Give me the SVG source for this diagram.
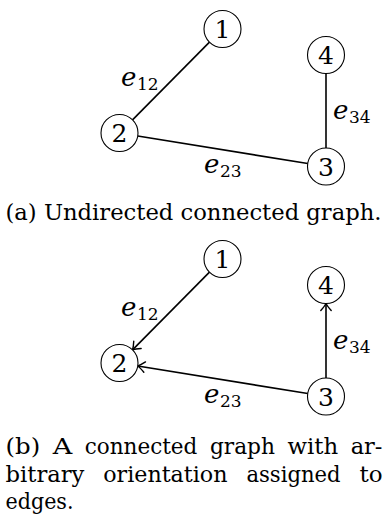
<svg xmlns="http://www.w3.org/2000/svg" width="385" height="524" viewBox="0 0 385 524">
<style>
text{font-family:'DejaVu Serif',serif;fill:#000}
.node circle{fill:#fff;stroke:#000;stroke-width:1.1}
.node text{font-size:25px;text-anchor:middle}
.edge{stroke:#000;stroke-width:1.6;fill:none}
.e{font-style:italic;font-size:26px}
.s{font-size:17px}
.cap{font-size:22px}
</style>
<defs>
<marker id="arr" markerUnits="userSpaceOnUse" viewBox="-9 -7 11 14" markerWidth="11" markerHeight="14" refX="0" refY="0" orient="auto" overflow="visible">
<path d="M-7,-5.2 Q-2.5,-1.2 0,0 Q-2.5,1.2 -7,5.2" fill="none" stroke="#000" stroke-width="1.4" stroke-linecap="round" stroke-linejoin="round"/>
</marker>
</defs>
<g id="connectors">
<line class="edge" x1="209.48" y1="42.14" x2="132.52" y2="119.86"/>
<line class="edge" x1="137.76" y1="135.96" x2="307.74" y2="163.54"/>
<line class="edge" x1="326" y1="148" x2="326" y2="73.5"/>
<line class="edge" x1="209.48" y1="272.14" x2="132.52" y2="349.86" marker-end="url(#arr)"/>
<line class="edge" x1="307.74" y1="393.54" x2="137.76" y2="365.96" marker-end="url(#arr)"/>
<line class="edge" x1="326" y1="378" x2="326" y2="303.5" marker-end="url(#arr)"/>
</g>
<g id="edge-labels">
<text x="121" y="86"><tspan class="e">e</tspan><tspan class="s" x="137" y="90">12</tspan></text>
<text x="204" y="172.5"><tspan class="e">e</tspan><tspan class="s" x="220" y="176.5">23</tspan></text>
<text x="333" y="119"><tspan class="e">e</tspan><tspan class="s" x="349" y="123">34</tspan></text>
<text x="121" y="316"><tspan class="e">e</tspan><tspan class="s" x="137" y="320">12</tspan></text>
<text x="204" y="402.5"><tspan class="e">e</tspan><tspan class="s" x="220" y="406.5">23</tspan></text>
<text x="333" y="349"><tspan class="e">e</tspan><tspan class="s" x="349" y="353">34</tspan></text>
</g>
<g id="a-node1" class="node"><circle cx="222.5" cy="29" r="18.5"/><text x="222.5" y="38">1</text></g>
<g id="a-node2" class="node"><circle cx="119.5" cy="133" r="18.5"/><text x="119.5" y="142">2</text></g>
<g id="a-node3" class="node"><circle cx="326" cy="166.5" r="18.5"/><text x="326" y="175.5">3</text></g>
<g id="a-node4" class="node"><circle cx="326" cy="55" r="18.5"/><text x="326" y="64">4</text></g>
<g id="b-node1" class="node"><circle cx="222.5" cy="259" r="18.5"/><text x="222.5" y="268">1</text></g>
<g id="b-node2" class="node"><circle cx="119.5" cy="363" r="18.5"/><text x="119.5" y="372">2</text></g>
<g id="b-node3" class="node"><circle cx="326" cy="396.5" r="18.5"/><text x="326" y="405.5">3</text></g>
<g id="b-node4" class="node"><circle cx="326" cy="285" r="18.5"/><text x="326" y="294">4</text></g>
<g id="captions" class="cap">
<text class="cap" x="5.5" y="220" textLength="376" lengthAdjust="spacingAndGlyphs">(a) Undirected connected graph.</text>
<text class="cap" y="454"><tspan x="5.5" textLength="34.7" lengthAdjust="spacingAndGlyphs">(b)</tspan> <tspan x="52.7" textLength="19.5" lengthAdjust="spacingAndGlyphs">A</tspan> <tspan x="84.7" textLength="112.7" lengthAdjust="spacingAndGlyphs">connected</tspan> <tspan x="209.9" textLength="65.1" lengthAdjust="spacingAndGlyphs">graph</tspan> <tspan x="287.6" textLength="50.6" lengthAdjust="spacingAndGlyphs">with</tspan> <tspan x="350.7" textLength="31.8" lengthAdjust="spacingAndGlyphs">ar-</tspan></text>
<text class="cap" y="481.5"><tspan x="5.5" textLength="78.9" lengthAdjust="spacingAndGlyphs">bitrary</tspan> <tspan x="103.2" textLength="124.3" lengthAdjust="spacingAndGlyphs">orientation</tspan> <tspan x="246.4" textLength="94.2" lengthAdjust="spacingAndGlyphs">assigned</tspan> <tspan x="359.4" textLength="23.1" lengthAdjust="spacingAndGlyphs">to</tspan></text>
<text class="cap" x="5.5" y="509" textLength="68" lengthAdjust="spacingAndGlyphs">edges.</text>
</g>
</svg>
